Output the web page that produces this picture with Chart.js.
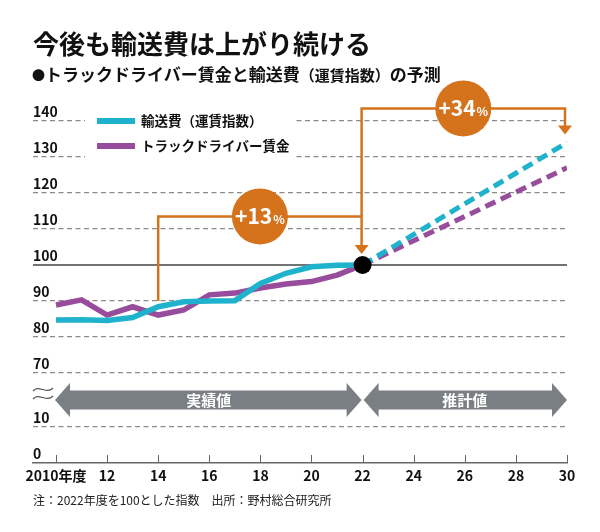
<!DOCTYPE html>
<html lang="ja">
<head>
<meta charset="utf-8">
<title>今後も輸送費は上がり続ける</title>
<script src="https://cdn.jsdelivr.net/npm/chart.js@4.4.0/dist/chart.umd.min.js"></script>
<style>
  html, body { margin: 0; padding: 0; background: #fff; }
  #wrap { position: relative; width: 600px; height: 532px; overflow: hidden; font-family: 'Noto Sans CJK JP', sans-serif; color: #111; }
  #chart { position: absolute; left: 0; top: 0; }
  .title { position: absolute; left: 33px; top: 30px; font-size: 26px; font-weight: 700; line-height: 1; white-space: nowrap; }
  .subtitle { position: absolute; left: 32px; top: 65px; font-size: 17px; font-weight: 700; line-height: 1; white-space: nowrap; }
  .subtitle .dot { font-size: 13px; vertical-align: 1px; }
  .subtitle .small { font-size: 15px; }
  .note { position: absolute; left: 33px; top: 494px; font-size: 12px; line-height: 1; color: #222; white-space: nowrap; }
</style>
</head>
<body>
<div id="wrap">
  <canvas id="chart" width="600" height="532"></canvas>
  <div class="title">今後も輸送費は上がり続ける</div>
  <div class="subtitle"><span class="dot">●</span>トラックドライバー賃金と輸送費<span class="small">（運賃指数）</span>の予測</div>
  <div class="note">注：2022年度を100とした指数　出所：野村総合研究所</div>
</div>
<script>
// actual values (2022 = 100)
const years = [2010, 2011, 2012, 2013, 2014, 2015, 2016, 2017, 2018, 2019, 2020, 2021, 2022];
const freightIndex = [84.7, 84.8, 84.6, 85.4, 88.4, 89.8, 90.0, 90.1, 94.9, 97.7, 99.5, 99.9, 100];
const driverWage = [88.9, 90.3, 86.1, 88.4, 86.1, 87.5, 91.7, 92.2, 93.6, 94.7, 95.4, 97.2, 100];

// forecast
const forecastYears = [2022, 2030];
const freightForecast = [100, 134];
const wageForecast = [100, 127];

// axis ticks
const xTickValues = [2010, 2012, 2014, 2016, 2018, 2020, 2022, 2024, 2026, 2028, 2030];
const yTickValues = [0, 10, 70, 80, 90, 100, 110, 120, 130, 140];

const legendLabels = ['輸送費（運賃指数）', 'トラックドライバー賃金'];
const periodLabels = ['実績値', '推計値'];
const changeLabels = ['+13', '+34'];

const CYAN = '#1fb2cd';
const PURPLE = '#984c9c';
const ORANGE = '#d5731d';
const ARROW_GRAY = '#7a7f83';
const NUM_FONT = "'Liberation Sans Narrow', 'Noto Sans CJK JP', sans-serif";
const JP_FONT = "'Noto Sans CJK JP', sans-serif";

// broken y axis: 10..70 squeezed into a gap of 15 units
const BREAK_LOW = 10, BREAK_HIGH = 70, BREAK_GAP = 15;
function toAxis(v) {
    return v >= BREAK_HIGH ? v - BREAK_HIGH + BREAK_LOW + BREAK_GAP : v;
}
function points(xs, vs) {
    return xs.map((x, i) => ({ x: x, y: toAxis(vs[i]) }));
}

function doubleArrow(ctx, x1, x2, yc) {
    const headL = 15, headH = 17, shaftH = 9.5;
    ctx.beginPath();
    ctx.moveTo(x1, yc);
    ctx.lineTo(x1 + headL, yc - headH);
    ctx.lineTo(x1 + headL, yc - shaftH);
    ctx.lineTo(x2 - headL, yc - shaftH);
    ctx.lineTo(x2 - headL, yc - headH);
    ctx.lineTo(x2, yc);
    ctx.lineTo(x2 - headL, yc + headH);
    ctx.lineTo(x2 - headL, yc + shaftH);
    ctx.lineTo(x1 + headL, yc + shaftH);
    ctx.lineTo(x1 + headL, yc + headH);
    ctx.closePath();
    ctx.fill();
}

function arrowDown(ctx, x, tipY) {
    ctx.beginPath();
    ctx.moveTo(x, tipY);
    ctx.lineTo(x - 7, tipY - 9);
    ctx.lineTo(x + 7, tipY - 9);
    ctx.closePath();
    ctx.fill();
}

function badge(ctx, cx, cy, num) {
    ctx.fillStyle = ORANGE;
    ctx.beginPath();
    ctx.arc(cx, cy, 28, 0, Math.PI * 2);
    ctx.fill();
    ctx.fillStyle = '#fff';
    ctx.textBaseline = 'alphabetic';
    ctx.textAlign = 'left';
    ctx.font = 'bold 21px ' + NUM_FONT;
    const w1 = ctx.measureText(num).width;
    ctx.font = 'bold 12px ' + NUM_FONT;
    const w2 = ctx.measureText('%').width;
    const left = cx - (w1 + w2 + 1) / 2;
    ctx.font = 'bold 21px ' + NUM_FONT;
    ctx.fillText(num, left, cy + 8);
    ctx.font = 'bold 12px ' + NUM_FONT;
    ctx.fillText('%', left + w1 + 1, cy + 8);
}

const decorations = {
    id: 'decorations',
    beforeDatasetsDraw(chart) {
        const { ctx, chartArea: a, scales: { x, y } } = chart;
        ctx.save();

        // 100 baseline
        const y100 = y.getPixelForValue(toAxis(100));
        ctx.strokeStyle = '#444';
        ctx.lineWidth = 1.5;
        ctx.beginPath();
        ctx.moveTo(a.left, y100);
        ctx.lineTo(a.right, y100);
        ctx.stroke();

        // tick marks above the x axis
        ctx.strokeStyle = '#666';
        ctx.lineWidth = 1;
        xTickValues.forEach(v => {
            const px = Math.round(x.getPixelForValue(v)) + 0.5;
            ctx.beginPath();
            ctx.moveTo(px, a.bottom - 8);
            ctx.lineTo(px, a.bottom);
            ctx.stroke();
        });

        // legend
        const y140 = y.getPixelForValue(toAxis(140));
        const y130 = y.getPixelForValue(toAxis(130));
        ctx.fillStyle = '#fff';
        ctx.fillRect(85, y140 - 12, 211, y130 - y140 + 16);
        [CYAN, PURPLE].forEach((c, i) => {
            const ly = y140 + i * 25;
            ctx.strokeStyle = c;
            ctx.lineWidth = 6;
            ctx.beginPath();
            ctx.moveTo(97, ly);
            ctx.lineTo(135, ly);
            ctx.stroke();
            ctx.fillStyle = '#111';
            ctx.font = 'bold 13.5px ' + JP_FONT;
            ctx.textAlign = 'left';
            ctx.textBaseline = 'middle';
            ctx.fillText(legendLabels[i], 141, ly);
        });

        // actual / forecast period arrows
        const yc = y.getPixelForValue(BREAK_LOW + BREAK_GAP / 2);
        const x0 = x.getPixelForValue(2010) - 1;
        const x1 = x.getPixelForValue(2022);
        const x2 = x.getPixelForValue(2030);
        ctx.fillStyle = ARROW_GRAY;
        doubleArrow(ctx, x0, x1 - 1, yc);
        doubleArrow(ctx, x1 + 1, x2, yc);
        ctx.fillStyle = '#fff';
        ctx.font = 'bold 15px ' + JP_FONT;
        ctx.textAlign = 'center';
        ctx.textBaseline = 'middle';
        ctx.fillText(periodLabels[0], (x0 + x1) / 2, yc);
        ctx.fillText(periodLabels[1], (x1 + x2) / 2, yc);

        // axis break mark
        ctx.strokeStyle = '#555';
        ctx.lineWidth = 1.2;
        [yc - 11, yc - 3].forEach(ty => {
            ctx.beginPath();
            ctx.moveTo(a.left, ty + 2);
            ctx.bezierCurveTo(a.left + 6, ty - 5, a.left + 13, ty + 6, a.left + 20, ty - 1);
            ctx.stroke();
        });
        ctx.restore();
    },
    afterDatasetsDraw(chart) {
        const { ctx, scales: { x, y } } = chart;
        ctx.save();
        const bx1 = x.getPixelForValue(2014);
        const bx2 = x.getPixelForValue(2022) - 1;
        const bx3 = x.getPixelForValue(2030) - 2;
        const yLow = y.getPixelForValue(toAxis(90));
        const yMid = y.getPixelForValue(toAxis(113.5));
        const yTop = y.getPixelForValue(toAxis(143.5));
        const yDot = y.getPixelForValue(toAxis(100));
        const yEnd = y.getPixelForValue(toAxis(freightForecast[1]));

        ctx.strokeStyle = ORANGE;
        ctx.fillStyle = ORANGE;
        ctx.lineWidth = 2.5;
        ctx.beginPath();
        ctx.moveTo(bx1, yLow);
        ctx.lineTo(bx1, yMid);
        ctx.lineTo(bx2, yMid);
        ctx.stroke();
        ctx.beginPath();
        ctx.moveTo(bx2, yDot - 19);
        ctx.lineTo(bx2, yTop);
        ctx.lineTo(bx3, yTop);
        ctx.lineTo(bx3, yEnd - 16);
        ctx.stroke();
        arrowDown(ctx, bx2, yDot - 11);
        arrowDown(ctx, bx3, yEnd - 8);

        badge(ctx, (bx1 + bx2) / 2, yMid, changeLabels[0]);
        badge(ctx, (bx2 + bx3) / 2, yTop, changeLabels[1]);
        ctx.restore();
    }
};

const ctx = document.getElementById('chart').getContext('2d');
const chart = new Chart(ctx, {
    type: 'line',
    data: {
        datasets: [
            {
                label: '2022',
                data: points([2022], [100]),
                showLine: false,
                pointRadius: 9,
                pointBackgroundColor: '#000',
                pointBorderWidth: 0
            },
            {
                label: legendLabels[0],
                data: points(years, freightIndex),
                borderColor: CYAN,
                borderWidth: 5.5,
                pointRadius: 0,
                tension: 0
            },
            {
                label: legendLabels[1],
                data: points(years, driverWage),
                borderColor: PURPLE,
                borderWidth: 5.5,
                pointRadius: 0,
                tension: 0
            },
            {
                label: legendLabels[0] + '（推計）',
                data: points(forecastYears, freightForecast),
                borderColor: CYAN,
                borderWidth: 5,
                borderDash: [11, 6],
                borderCapStyle: 'butt',
                pointRadius: 0
            },
            {
                label: legendLabels[1] + '（推計）',
                data: points(forecastYears, wageForecast),
                borderColor: PURPLE,
                borderWidth: 5,
                borderDash: [11, 6],
                borderCapStyle: 'butt',
                pointRadius: 0
            }
        ]
    },
    options: {
        responsive: false,
        animation: false,
        layout: {
            padding: { left: 33, right: 33, top: 103, bottom: 45 }
        },
        plugins: {
            legend: { display: false },
            tooltip: { enabled: false }
        },
        scales: {
            x: {
                type: 'linear',
                min: 2009.1,
                max: 2030,
                bounds: 'data',
                afterBuildTicks: scale => {
                    scale.ticks = xTickValues.map(v => ({ value: v }));
                },
                afterFit: scale => {
                    scale.height = 24;
                },
                grid: { display: false, drawTicks: false },
                border: { display: true, color: '#666', width: 1.5 },
                ticks: {
                    autoSkip: false,
                    maxRotation: 0,
                    padding: 4,
                    color: '#111',
                    font: { family: NUM_FONT, size: 14, weight: 'bold' },
                    callback: value => value === 2010 ? '2010年度' : String(value % 100)
                }
            },
            y: {
                type: 'linear',
                min: 0,
                max: 100,
                afterBuildTicks: scale => {
                    scale.ticks = yTickValues.map(v => ({ value: toAxis(v) }));
                },
                grid: {
                    drawTicks: false,
                    lineWidth: 1.2,
                    color: c => (c.tick && (c.tick.value === 0 || c.tick.value === toAxis(100))) ? 'rgba(0,0,0,0)' : '#8a8a8a'
                },
                border: { display: false, dash: [5, 3.5] },
                ticks: {
                    mirror: true,
                    padding: 0,
                    labelOffset: -9,
                    autoSkip: false,
                    color: '#111',
                    font: { family: NUM_FONT, size: 14, weight: 'bold' },
                    callback: (value, index) => String(yTickValues[index])
                }
            }
        }
    },
    plugins: [decorations]
});
</script>
</body>
</html>
